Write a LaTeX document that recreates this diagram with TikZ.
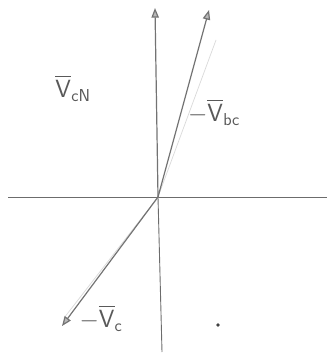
\documentclass[tikz,border=0pt]{standalone}
\usepackage{amsmath,amssymb}
\usepackage{tikz}
\usetikzlibrary{arrows.meta,positioning,calc}
\tikzset{
  pencil/.style ={draw=gray!90!black,line width=1.2pt},
  faint/.style  ={draw=gray!30,line width=0.7pt},
  axis/.style   ={draw=gray!85!black,line width=0.9pt},
  ph/.style     ={pencil,-{Triangle[length=3.4mm,width=2.6mm,fill=gray!55]}},
  lbl/.style    ={text=gray!70!black,font=\fontsize{25}{28}\selectfont,inner sep=1pt},
}
\newcommand{\vb}[1]{\overline{\mathsf{V}}_{\mathsf{#1}}}

\begin{document}
\begin{tikzpicture}[x=1pt,y=-1pt]
\useasboundingbox (0,0) rectangle (327,356);
\coordinate (O) at (158,197);
\coordinate (L) at (8,197);  \coordinate (R) at (327,197);
\coordinate (B) at (162,352);
\coordinate (CN) at (155,8);
\coordinate (BC) at (209,10);
\coordinate (C) at (62,326);
\draw[axis](L)--(R);
\draw[axis](O)--(B);
\draw[faint](O)--(216,40); \draw[faint](O)--(64,318);
\draw[ph](O)--(CN);
\draw[ph](O)--(BC);
\draw[ph](O)--(C);
\node[lbl] (lCN) at (73,88) {$\vb{cN}$};
\node[lbl] (lBC) at (214,112) {$-\vb{bc}$};
\node[lbl] (lC) at (101,318) {$-\vb{c}$};
\fill[gray!50!black] (218,325) circle (1.8);
\end{tikzpicture}
\end{document}
